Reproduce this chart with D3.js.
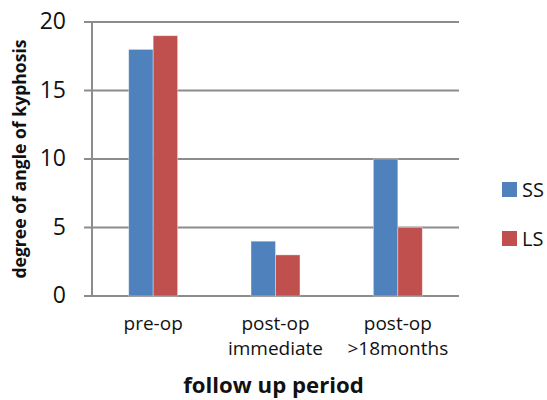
<!DOCTYPE html>
<html>
<head>
<meta charset="utf-8">
<script src="https://cdn.jsdelivr.net/npm/d3@7"></script>
<style>
  html, body { margin: 0; padding: 0; background: #fff; }
  svg { display: block; font-family: "Open Sans", Lato, sans-serif; }
</style>
</head>
<body>
<svg id="chart" width="547" height="400"></svg>
<script>
// Follow-up periods (category labels, split over lines)
const categories = ["pre-op", "post-op immediate", "post-op >18months"];
const categoryLines = [["pre-op"], ["post-op", "immediate"], ["post-op", ">18months"]];
// Series
const seriesNames = ["SS", "LS"];
const ssValues = [18, 4, 10];
const lsValues = [19, 3, 5];
const seriesColors = ["#4F81BD", "#C0504D"];
// Y axis ticks
const yTicks = [0, 5, 10, 15, 20];

const svg = d3.select("#chart");
const margin = { left: 92, right: 88, top: 22, bottom: 104 };
const W = 547, H = 400;

const x = d3.scaleBand().domain(categories).range([margin.left, W - margin.right]).paddingInner(0).paddingOuter(0);
const y = d3.scaleLinear().domain([0, 20]).range([H - margin.bottom, margin.top]);

const grid = "#8c8c8c";

// Horizontal gridlines
svg.append("g").selectAll("line").data(yTicks).join("line")
  .attr("x1", margin.left - 8).attr("x2", W - margin.right)
  .attr("y1", d => y(d)).attr("y2", d => y(d))
  .attr("stroke", grid).attr("stroke-width", 2);

// Vertical axis line
svg.append("line")
  .attr("x1", margin.left).attr("x2", margin.left)
  .attr("y1", y(20)).attr("y2", y(0))
  .attr("stroke", grid).attr("stroke-width", 2);

// Y tick labels
svg.append("g").selectAll("text").data(yTicks).join("text")
  .attr("x", margin.left - 26).attr("y", d => y(d) - 1)
  .attr("dy", "0.36em").attr("text-anchor", "end")
  .attr("font-size", 23).attr("fill", "#111")
  .text(d => d);

// Bars
const bw = x.bandwidth() * 0.2;
const series = [ssValues, lsValues];
const inner = d3.scaleBand().domain(seriesNames).range([0, bw * 2]);
series.forEach((vals, si) => {
  svg.append("g").selectAll("rect").data(vals).join("rect")
    .attr("x", (d, i) => x(categories[i]) + x.bandwidth() / 2 - bw + inner(seriesNames[si]))
    .attr("y", d => y(d))
    .attr("width", inner.bandwidth())
    .attr("height", d => y(0) - y(d))
    .attr("fill", seriesColors[si])
    .attr("stroke", "rgba(255,255,255,0.45)").attr("stroke-width", 0.8);
});

// Category labels
const catG = svg.append("g");
categoryLines.forEach((lines, i) => {
  const t = catG.append("text")
    .attr("x", x(categories[i]) + x.bandwidth() / 2)
    .attr("y", 329.5)
    .attr("text-anchor", "middle").attr("font-size", 19).attr("fill", "#111");
  lines.forEach((l, j) => t.append("tspan")
    .attr("x", x(categories[i]) + x.bandwidth() / 2)
    .attr("dy", j === 0 ? 0 : 25.5).text(l));
});

// Axis titles
svg.append("text")
  .attr("x", (margin.left + W - margin.right) / 2 - 2).attr("y", 393)
  .attr("text-anchor", "middle").attr("font-size", 22.2).attr("font-weight", "bold")
  .attr("fill", "#111").text("follow up period");

svg.append("text")
  .attr("transform", `translate(26, ${(y(0) + y(20)) / 2}) rotate(-90)`)
  .attr("text-anchor", "middle").attr("font-size", 17.6).attr("font-weight", "bold")
  .attr("fill", "#111").text("degree of angle of kyphosis");

// Legend
const legend = svg.append("g");
seriesNames.forEach((n, i) => {
  const cy = 189.5 + i * 49;
  legend.append("rect").attr("x", 502).attr("y", cy - 7.5).attr("width", 15).attr("height", 15)
    .attr("fill", seriesColors[i]);
  legend.append("text").attr("x", 522).attr("y", cy + 0.5).attr("dy", "0.36em")
    .attr("font-size", 20).attr("fill", "#111").text(n);
});
</script>
</body>
</html>
